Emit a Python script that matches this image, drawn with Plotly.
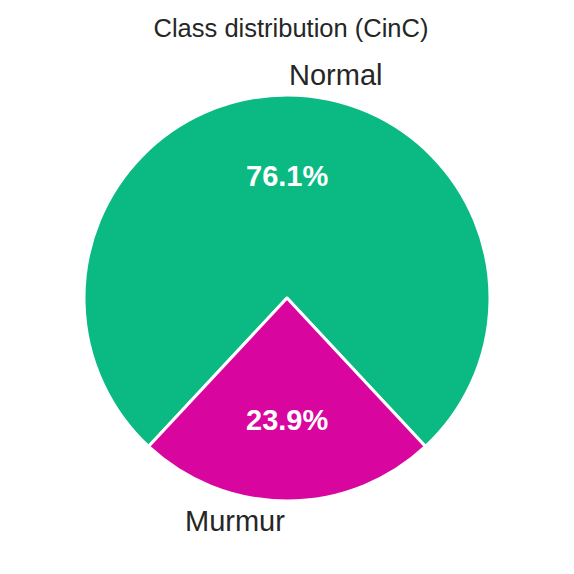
import numpy as np
import plotly.graph_objects as go

# Data
labels = ["Normal", "Murmur"]
values = [761, 239]
colors = ["#0bba83", "#d8069f"]
title_text = "Class distribution (CinC)"

total = float(sum(values))
fracs = [v / total for v in values]

# matplotlib-style geometry: counterclockwise from startangle
# chosen so the Murmur slice is centred at the bottom
startangle = 270 - 360 * (fracs[0] + fracs[1] / 2)
rotation = startangle - 90

W = H = 566  # page body adds an 8px offset in the browser
FONT = "Liberation Sans, Arial, sans-serif"

fig = go.Figure(go.Pie(
    labels=labels, values=values, sort=False, direction="counterclockwise",
    rotation=rotation,
    marker=dict(colors=colors, line=dict(color="white", width=3)),
    textinfo="none", hoverinfo="label+percent", showlegend=False,
    domain=dict(x=[0, 1], y=[0, 1]),
))

annotations = []
theta = startangle
for lab, f in zip(labels, fracs):
    mid = np.deg2rad(theta + 360 * f / 2)
    cx, cy = np.cos(mid), np.sin(mid)
    annotations.append(dict(
        x=0.5 + 0.5 * 1.1 * cx, y=0.5 + 0.5 * 1.1 * cy, xref="paper", yref="paper",
        text=lab, showarrow=False, xanchor="left" if cx > 0 else "right", yanchor="middle",
        font=dict(family=FONT, size=29, color="#262626"),
    ))
    annotations.append(dict(
        x=0.5 + 0.5 * 0.6 * cx, y=0.5 + 0.5 * 0.6 * cy, xref="paper", yref="paper",
        text="<b>%.1f%%</b>" % (100 * f), showarrow=False, xanchor="center", yanchor="middle",
        font=dict(family=FONT, size=29, color="white"),
    ))
    theta += 360 * f

fig.update_layout(
    width=W, height=H,
    margin=dict(l=76, r=84, t=87, b=73),
    paper_bgcolor="white", plot_bgcolor="white",
    title=dict(text=title_text, x=0.5, xanchor="center", y=1 - 20 / H, yanchor="middle",
               font=dict(family=FONT, size=25.5, color="#262626")),
    annotations=annotations,
)

fig.write_html("out.html")
